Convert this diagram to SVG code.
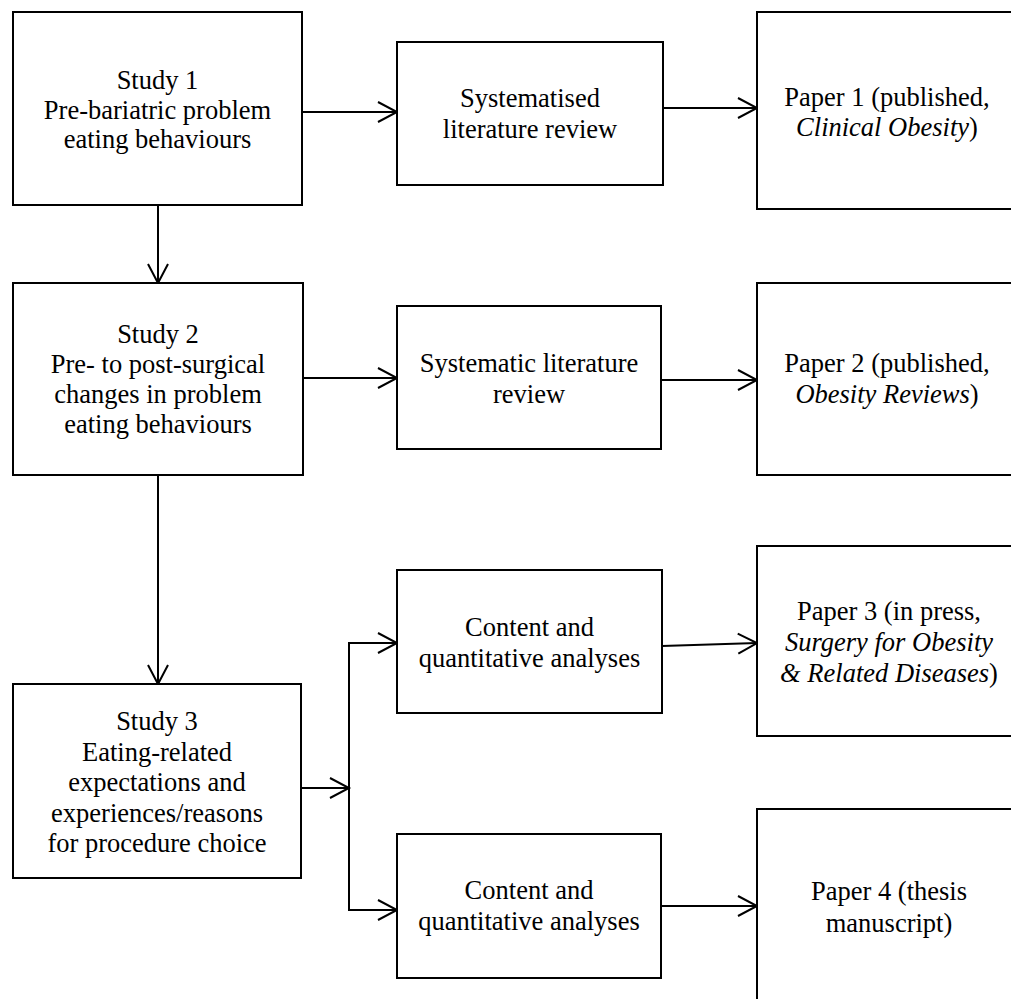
<svg xmlns="http://www.w3.org/2000/svg" width="1011" height="999" viewBox="0 0 1011 999">
<style>
.box{fill:#fff;stroke:#000;stroke-width:2}
.t{font-family:"Liberation Serif","Times New Roman",serif;font-size:26.5px;fill:#000;text-anchor:middle}
.i{font-style:italic}
.c{fill:none;stroke:#000;stroke-width:2}
</style>
<defs>
<marker id="ah" markerUnits="userSpaceOnUse" markerWidth="24" markerHeight="24" refX="19" refY="10" orient="auto" viewBox="-2 -2 24 24" overflow="visible">
<path d="M0,0 L19,10 L0,20" fill="none" stroke="#000" stroke-width="2"/>
</marker>
</defs>
<rect width="1011" height="999" fill="#fff"/>
<g id="connectors">
<line class="c" x1="302" y1="112" x2="397" y2="112" marker-end="url(#ah)"/>
<line class="c" x1="663" y1="108" x2="757" y2="108" marker-end="url(#ah)"/>
<line class="c" x1="158" y1="205" x2="158" y2="283" marker-end="url(#ah)"/>
<line class="c" x1="303" y1="378" x2="397" y2="378" marker-end="url(#ah)"/>
<line class="c" x1="661" y1="380" x2="757" y2="380" marker-end="url(#ah)"/>
<line class="c" x1="158" y1="475" x2="158" y2="684" marker-end="url(#ah)"/>
<line class="c" x1="301" y1="788" x2="349" y2="788" marker-end="url(#ah)"/>
<polyline class="c" points="397,643 349,643 349,910 397,910"/>
<line class="c" x1="349" y1="643" x2="397" y2="643" marker-end="url(#ah)"/>
<line class="c" x1="349" y1="910" x2="397" y2="910" marker-end="url(#ah)"/>
<line class="c" x1="662" y1="646" x2="757" y2="643" marker-end="url(#ah)"/>
<line class="c" x1="661" y1="906" x2="757" y2="906" marker-end="url(#ah)"/>
</g>
<g id="study1">
<rect class="box" x="13" y="12" width="289" height="193"/>
<text class="t" x="157.5" y="89">Study 1</text>
<text class="t" x="157.5" y="118.5">Pre-bariatric problem</text>
<text class="t" x="157.5" y="148">eating behaviours</text>
</g>
<g id="review1">
<rect class="box" x="397" y="42" width="266" height="143"/>
<text class="t" x="530" y="107">Systematised</text>
<text class="t" x="530" y="137.5">literature review</text>
</g>
<g id="paper1">
<rect class="box" x="757" y="12" width="260" height="197"/>
<text class="t" x="887" y="106">Paper 1 (published,</text>
<text class="t" x="887" y="136"><tspan class="i">Clinical Obesity</tspan>)</text>
</g>
<g id="study2">
<rect class="box" x="13" y="283" width="290" height="192"/>
<text class="t" x="158" y="343">Study 2</text>
<text class="t" x="158" y="373">Pre- to post-surgical</text>
<text class="t" x="158" y="403">changes in problem</text>
<text class="t" x="158" y="433">eating behaviours</text>
</g>
<g id="review2">
<rect class="box" x="397" y="306" width="264" height="143"/>
<text class="t" x="529" y="372">Systematic literature</text>
<text class="t" x="529" y="403">review</text>
</g>
<g id="paper2">
<rect class="box" x="757" y="283" width="260" height="192"/>
<text class="t" x="887" y="372">Paper 2 (published,</text>
<text class="t" x="887" y="403"><tspan class="i">Obesity Reviews</tspan>)</text>
</g>
<g id="study3">
<rect class="box" x="13" y="684" width="288" height="194"/>
<text class="t" x="157" y="730">Study 3</text>
<text class="t" x="157" y="760.5">Eating-related</text>
<text class="t" x="157" y="791">expectations and</text>
<text class="t" x="157" y="821.5">experiences/reasons</text>
<text class="t" x="157" y="852">for procedure choice</text>
</g>
<g id="analysis1">
<rect class="box" x="397" y="570" width="265" height="143"/>
<text class="t" x="529.5" y="636">Content and</text>
<text class="t" x="529.5" y="667">quantitative analyses</text>
</g>
<g id="paper3">
<rect class="box" x="757" y="546" width="262" height="190"/>
<text class="t" x="889" y="620">Paper 3 (in press,</text>
<text class="t i" x="889" y="651">Surgery for Obesity</text>
<text class="t" x="889" y="682"><tspan class="i">&amp; Related Diseases</tspan>)</text>
</g>
<g id="analysis2">
<rect class="box" x="397" y="834" width="264" height="144"/>
<text class="t" x="529" y="899">Content and</text>
<text class="t" x="529" y="930">quantitative analyses</text>
</g>
<g id="paper4">
<rect class="box" x="757" y="809" width="262" height="200"/>
<text class="t" x="889" y="900">Paper 4 (thesis</text>
<text class="t" x="889" y="932">manuscript)</text>
</g>
</svg>
